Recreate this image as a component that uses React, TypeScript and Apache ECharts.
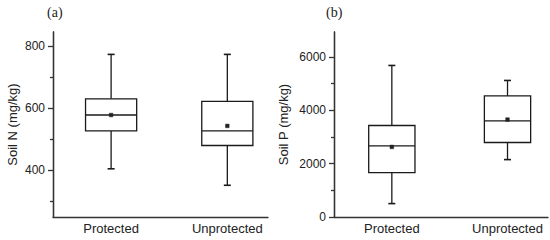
import React, { useEffect, useRef } from "react";
import * as echarts from "echarts";

const categories = ["Protected", "Unprotected"];
const categoryPositions = [1, 2];

const soilNMin = [405, 352];
const soilNQ1 = [527, 480];
const soilNMedian = [578, 527];
const soilNQ3 = [630, 622];
const soilNMax = [773, 773];
const soilNMean = [578, 543];

const soilPMin = [502, 2150];
const soilPQ1 = [1665, 2790];
const soilPMedian = [2663, 3600];
const soilPQ3 = [3427, 4537];
const soilPMax = [5677, 5115];
const soilPMean = [2625, 3650];

const soilNMajorTicks = [400, 600, 800];
const soilNMinorTicks = [300, 500, 700];
const soilPMajorTicks = [0, 2000, 4000, 6000];
const soilPMinorTicks = [1000, 3000, 5000];

const TEXT = "#222";
const LINE = "#333";
const SANS = "Liberation Sans, Arial, sans-serif";

function buildRows(mins, q1s, meds, q3s, maxs, means) {
  return categoryPositions.map((x, i) => [x, mins[i], q1s[i], meds[i], q3s[i], maxs[i], means[i]]);
}

function makeRenderItem(boxWidth) {
  return (params, api) => {
    const x = api.value(0);
    const pMin = api.coord([x, api.value(1)]);
    const pQ1 = api.coord([x, api.value(2)]);
    const pMed = api.coord([x, api.value(3)]);
    const pQ3 = api.coord([x, api.value(4)]);
    const pMax = api.coord([x, api.value(5)]);
    const pMean = api.coord([x, api.value(6)]);
    const half = api.size([boxWidth, 0])[0] / 2;
    const cx = pMed[0];
    const cap = 3.5;
    const ls = { stroke: "#1a1a1a", lineWidth: 1.3, fill: null };
    return {
      type: "group",
      children: [
        { type: "line", shape: { x1: cx, y1: pQ3[1], x2: cx, y2: pMax[1] }, style: ls },
        { type: "line", shape: { x1: cx, y1: pQ1[1], x2: cx, y2: pMin[1] }, style: ls },
        { type: "line", shape: { x1: cx - cap, y1: pMax[1], x2: cx + cap, y2: pMax[1] }, style: { ...ls, lineWidth: 1.6 } },
        { type: "line", shape: { x1: cx - cap, y1: pMin[1], x2: cx + cap, y2: pMin[1] }, style: { ...ls, lineWidth: 1.6 } },
        {
          type: "rect",
          shape: { x: cx - half, y: pQ3[1], width: half * 2, height: pQ1[1] - pQ3[1] },
          style: { stroke: "#1a1a1a", lineWidth: 1.3, fill: "#fff" },
        },
        { type: "line", shape: { x1: cx - half, y1: pMed[1], x2: cx + half, y2: pMed[1] }, style: ls },
        {
          type: "rect",
          shape: { x: pMean[0] - 1.8, y: pMean[1] - 1.8, width: 3.6, height: 3.6 },
          style: { fill: "#222", stroke: "#222", lineWidth: 0.5 },
        },
      ],
    };
  };
}

function yAxes(gridIndex, min, max, major, minor, name, nameGap) {
  const lineStyle = { color: LINE, width: 1.3 };
  return [
    {
      type: "value",
      gridIndex,
      position: "left",
      min,
      max,
      axisLine: { show: true, lineStyle },
      axisTick: { show: true, inside: false, length: 5, customValues: major, lineStyle },
      axisLabel: {
        show: true,
        customValues: major,
        formatter: (v) => String(v),
        fontSize: 12,
        color: TEXT,
        margin: 8,
        fontFamily: SANS,
      },
      splitLine: { show: false },
      name,
      nameLocation: "middle",
      nameRotate: 90,
      nameGap,
      nameTextStyle: { fontSize: 13, color: TEXT, fontFamily: SANS },
    },
    {
      type: "value",
      gridIndex,
      position: "left",
      offset: 0,
      min,
      max,
      axisLine: { show: true, lineStyle },
      axisTick: { show: true, inside: false, length: 3, customValues: minor, lineStyle },
      axisLabel: { show: false },
      splitLine: { show: false },
    },
  ];
}

function xAxis(gridIndex) {
  return {
    type: "value",
    gridIndex,
    min: 0.5,
    max: 2.35,
    axisLine: { show: true, lineStyle: { color: LINE, width: 1.3 } },
    axisTick: { show: false },
    splitLine: { show: false },
    axisLabel: {
      customValues: categoryPositions,
      formatter: (v) => categories[categoryPositions.indexOf(Math.round(v))] || "",
      fontSize: 13,
      color: TEXT,
      margin: 5,
      fontFamily: SANS,
    },
  };
}

export default function App() {
  const ref = useRef(null);
  useEffect(() => {
    const chart = echarts.init(ref.current, null, { renderer: "svg" });
    const nRows = buildRows(soilNMin, soilNQ1, soilNMedian, soilNQ3, soilNMax, soilNMean);
    const pRows = buildRows(soilPMin, soilPQ1, soilPMedian, soilPQ3, soilPMax, soilPMean);
    chart.setOption({
      animation: false,
      backgroundColor: "#fff",
      grid: [
        { left: 53, top: 32, width: 215, height: 185 },
        { left: 334, top: 32, width: 214, height: 185 },
      ],
      xAxis: [xAxis(0), xAxis(1)],
      yAxis: [
        ...yAxes(0, 250, 845, soilNMajorTicks, soilNMinorTicks, "Soil N (mg/kg)", 34),
        ...yAxes(1, 0, 6930, soilPMajorTicks, soilPMinorTicks, "Soil P (mg/kg)", 44),
      ],
      graphic: [
        { type: "text", left: 47, top: 5, style: { text: "(a)", fontSize: 14, fontFamily: "Liberation Serif, Times New Roman, serif", fill: TEXT } },
        { type: "text", left: 326, top: 5, style: { text: "(b)", fontSize: 14, fontFamily: "Liberation Serif, Times New Roman, serif", fill: TEXT } },
      ],
      series: [
        {
          type: "custom",
          xAxisIndex: 0,
          yAxisIndex: 0,
          renderItem: makeRenderItem(0.44),
          encode: { x: 0, y: [1, 2, 3, 4, 5, 6] },
          data: nRows,
          clip: false,
        },
        {
          type: "custom",
          xAxisIndex: 1,
          yAxisIndex: 2,
          renderItem: makeRenderItem(0.4),
          encode: { x: 0, y: [1, 2, 3, 4, 5, 6] },
          data: pRows,
          clip: false,
        },
      ],
    });
    return () => chart.dispose();
  }, []);
  return <div ref={ref} style={{ position: "absolute", left: 0, top: 0, width: 550, height: 240 }} />;
}
